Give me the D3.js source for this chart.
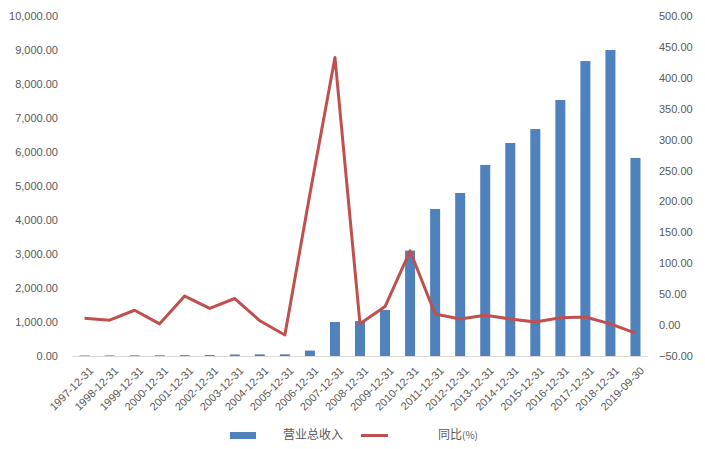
<!DOCTYPE html>
<html><head><meta charset="utf-8">
<script src="https://cdn.jsdelivr.net/npm/d3@7"></script>
<style>body{margin:0;background:#fff;} svg{display:block;}</style>
</head><body>
<script>
const categories = ["1997-12-31","1998-12-31","1999-12-31","2000-12-31","2001-12-31","2002-12-31","2003-12-31","2004-12-31","2005-12-31","2006-12-31","2007-12-31","2008-12-31","2009-12-31","2010-12-31","2011-12-31","2012-12-31","2013-12-31","2014-12-31","2015-12-31","2016-12-31","2017-12-31","2018-12-31","2019-09-30"];
const revenue = [15,18,20,22,25,28,45,50,50,160,1000,1030,1355,3100,4325,4795,5620,6265,6675,7530,8675,9000,5825];
const yoy = [11,8,24,2,47,27,43,7,-16,212,433,2,30,120,18,10,16,10,5,12,13,2,-13];
const leftTicks = [0,1000,2000,3000,4000,5000,6000,7000,8000,9000,10000];
const rightTicks = [-50,0,50,100,150,200,250,300,350,400,450,500];
const seriesNames = ["营业总收入","同比(%)"];

const W=705,H=449;
const svg=d3.select("body").append("svg").attr("width",W).attr("height",H);
const font="'Liberation Sans', Arial, sans-serif";
const xc=d3.scaleBand().domain(categories).range([72,648]);
const yL=d3.scaleLinear().domain([0,10000]).range([356,16]);
const yR=d3.scaleLinear().domain([-50,500]).range([356,16]);

const fmt=d3.format(",.2f");
const gl=svg.append("g").attr("transform","translate(58,0)")
  .call(d3.axisLeft(yL).tickValues(leftTicks).tickSize(0).tickPadding(0).tickFormat(fmt));
gl.select(".domain").remove();
gl.selectAll("text").attr("font-family",font).attr("font-size",11).attr("fill","#595959");
const gr=svg.append("g").attr("transform","translate(659,0)")
  .call(d3.axisRight(yR).tickValues(rightTicks).tickSize(0).tickPadding(0).tickFormat(fmt));
gr.select(".domain").remove();
gr.selectAll("text").attr("font-family",font).attr("font-size",11).attr("fill","#595959");

svg.append("g").selectAll("rect").data(revenue).join("rect")
  .attr("x",(d,i)=>xc(categories[i])+xc.bandwidth()/2-5)
  .attr("width",10)
  .attr("y",d=>yL(d)).attr("height",d=>yL(0)-yL(d))
  .attr("fill","#4f81bd");

svg.append("line").attr("x1",72).attr("x2",648).attr("y1",356.5).attr("y2",356.5)
  .attr("stroke","#d9d9d9").attr("stroke-width",1);

const line=d3.line().x((d,i)=>xc(categories[i])+xc.bandwidth()/2).y(d=>yR(d));
svg.append("path").datum(yoy).attr("d",line).attr("fill","none")
  .attr("stroke","#c0504d").attr("stroke-width",3).attr("stroke-linejoin","round");

svg.append("g").selectAll("text").data(categories).join("text")
  .attr("transform",d=>`translate(${xc(d)+xc.bandwidth()/2+4},${366}) rotate(-45)`)
  .attr("text-anchor","end").attr("dy","0.7em")
  .attr("font-family",font).attr("font-size",11).attr("fill","#595959")
  .text(d=>d);

const lg=svg.append("g");
lg.append("rect").attr("x",230).attr("y",432).attr("width",26).attr("height",7).attr("fill","#4f81bd");
lg.append("text").attr("x",283).attr("y",439).attr("font-family","'Noto Sans CJK SC', sans-serif").attr("font-size",12).attr("fill","#595959").text(seriesNames[0]);
lg.append("line").attr("x1",361).attr("x2",388).attr("y1",435.5).attr("y2",435.5).attr("stroke","#c0504d").attr("stroke-width",3);
const t2=lg.append("text").attr("x",438).attr("y",439).attr("font-family","'Noto Sans CJK SC', sans-serif").attr("font-size",12).attr("fill","#595959");
t2.append("tspan").text("同比");
t2.append("tspan").attr("font-size",10).text("(%)");
</script>
</body></html>
